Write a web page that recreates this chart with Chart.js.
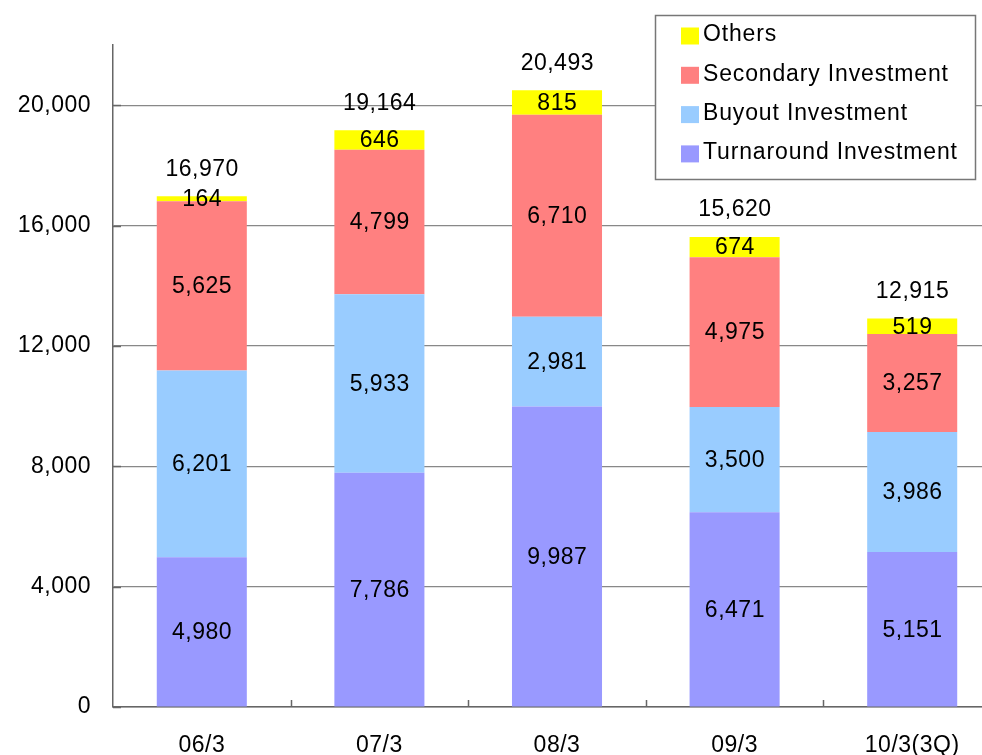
<!DOCTYPE html>
<html>
<head>
<meta charset="utf-8">
<script src="https://cdn.jsdelivr.net/npm/chart.js@4.4.1/dist/chart.umd.min.js"></script>
<style>
  html, body { margin: 0; padding: 0; background: #fff; overflow: hidden; }
  #wrap { width: 1001px; height: 755px; }
</style>
</head>
<body>
<div id="wrap"><canvas id="c" width="1001" height="755"></canvas></div>
<script>
// Fiscal periods and investment balances by type
const categories = ['06/3', '07/3', '08/3', '09/3', '10/3(3Q)'];
const turnaround = [4980, 7786, 9987, 6471, 5151];
const buyout = [6201, 5933, 2981, 3500, 3986];
const secondary = [5625, 4799, 6710, 4975, 3257];
const others = [164, 646, 815, 674, 519];
const totals = [16970, 19164, 20493, 15620, 12915];
const yTicks = [0, 4000, 8000, 12000, 16000, 20000];

const FONT = 'Liberation Sans, Arial, sans-serif';
const SIZE = 23;
const SPACING = '0.5px';
const fmt = v => v.toLocaleString('en-US');

// Slightly tracked-out text for every label on the canvas
const textSpacing = {
  id: 'textSpacing',
  beforeDraw(chart) { chart.ctx.letterSpacing = SPACING; }
};

// Value labels inside each segment and the stack total above each bar
const valueLabels = {
  id: 'valueLabels',
  afterDatasetsDraw(chart) {
    const ctx = chart.ctx;
    ctx.save();
    ctx.letterSpacing = SPACING;
    ctx.font = SIZE + 'px ' + FONT;
    ctx.fillStyle = '#000';
    ctx.textAlign = 'center';
    ctx.textBaseline = 'middle';
    chart.data.datasets.forEach((ds, di) => {
      const meta = chart.getDatasetMeta(di);
      meta.data.forEach((el, i) => {
        ctx.fillText(fmt(ds.data[i]), el.x + 0.3, (el.y + el.base) / 2 + 1);
      });
    });
    const last = chart.getDatasetMeta(chart.data.datasets.length - 1);
    last.data.forEach((el, i) => {
      ctx.fillText(fmt(totals[i]), el.x + 0.3, el.y - 27);
    });
    ctx.restore();
  }
};

// Inward tick marks on both axes
const axisTicks = {
  id: 'axisTicks',
  afterDraw(chart) {
    const ctx = chart.ctx;
    const x = chart.scales.x, y = chart.scales.y;
    const area = chart.chartArea;
    ctx.save();
    ctx.strokeStyle = '#666';
    ctx.lineWidth = 1.5;
    ctx.beginPath();
    for (let i = 1; i < categories.length; i++) {
      const px = Math.round((x.getPixelForValue(i - 1) + x.getPixelForValue(i)) / 2) + 0.5;
      ctx.moveTo(px, area.bottom);
      ctx.lineTo(px, area.bottom - 7);
    }
    yTicks.forEach(v => {
      const py = Math.round(y.getPixelForValue(v)) + 0.5;
      ctx.moveTo(area.left, py);
      ctx.lineTo(area.left + 8, py);
    });
    ctx.stroke();
    ctx.restore();
  }
};

// Boxed legend in the upper right, listed top of stack first
const boxLegend = {
  id: 'boxLegend',
  afterDraw(chart) {
    const ctx = chart.ctx;
    const bx = 655.5, by = 15.5, bw = 320, bh = 164;
    ctx.save();
    ctx.fillStyle = '#fff';
    ctx.fillRect(bx, by, bw, bh);
    ctx.strokeStyle = '#777';
    ctx.lineWidth = 1.5;
    ctx.strokeRect(bx, by, bw, bh);
    ctx.letterSpacing = '0.85px';
    ctx.font = SIZE + 'px ' + FONT;
    ctx.textAlign = 'left';
    ctx.textBaseline = 'middle';
    const items = chart.data.datasets.slice().reverse();
    items.forEach((ds, k) => {
      const cy = 36 + k * 39.3;
      ctx.fillStyle = ds.backgroundColor;
      ctx.fillRect(681, cy - 8.5, 18, 17);
      ctx.fillStyle = '#000';
      ctx.fillText(ds.label, 703, cy - 1);
    });
    ctx.restore();
  }
};

new Chart(document.getElementById('c'), {
  type: 'bar',
  data: {
    labels: categories,
    datasets: [
      { label: 'Turnaround Investment', data: turnaround, backgroundColor: '#9999FF' },
      { label: 'Buyout Investment', data: buyout, backgroundColor: '#99CCFF' },
      { label: 'Secondary Investment', data: secondary, backgroundColor: '#FF8080' },
      { label: 'Others', data: others, backgroundColor: '#FFFF00' }
    ]
  },
  options: {
    responsive: false,
    animation: false,
    layout: { padding: { top: 45, left: 0, right: 0, bottom: 0 } },
    datasets: { bar: { barPercentage: 0.507, categoryPercentage: 1.0, borderWidth: 0 } },
    plugins: { legend: { display: false }, tooltip: { enabled: false } },
    scales: {
      x: {
        stacked: true,
        grid: { display: false, drawTicks: false },
        border: { display: true, color: '#666', width: 1.5 },
        ticks: { color: '#000', font: { family: FONT, size: SIZE }, padding: 25, maxRotation: 0 },
        afterFit(s) { s.height = 48; }
      },
      y: {
        stacked: true,
        min: 0,
        max: 22000,
        afterBuildTicks(s) { s.ticks = yTicks.map(v => ({ value: v })); },
        grid: { color: '#888', lineWidth: 1.2, drawTicks: false },
        border: { display: true, color: '#666', width: 1.5 },
        ticks: { color: '#000', font: { family: FONT, size: SIZE }, padding: 22, callback: v => fmt(v) },
        afterFit(s) { s.width = 113; }
      }
    }
  },
  plugins: [textSpacing, valueLabels, axisTicks, boxLegend]
});
</script>
</body>
</html>
